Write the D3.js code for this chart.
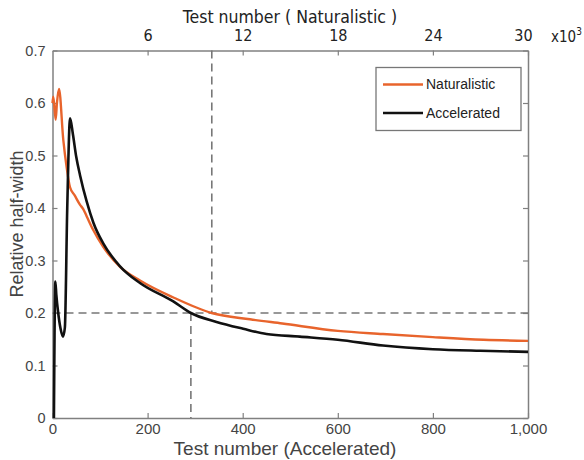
<!DOCTYPE html>
<html>
<head>
<meta charset="utf-8">
<script src="https://cdn.jsdelivr.net/npm/d3@7"></script>
<style>
  body { margin: 0; background: #fff; }
  .tick text { fill: #444; }
</style>
</head>
<body>
<script>
// Accelerated series (x = test number)
var accelX = [3, 6, 8, 12, 17, 22, 26, 31, 37, 43, 50, 58, 72, 86, 107, 142, 184, 254, 291, 345, 401, 450, 520, 600, 695, 800, 900, 1000];
var accelY = [0, 0.26, 0.235, 0.2, 0.17, 0.155, 0.172, 0.4, 0.571, 0.54, 0.497, 0.462, 0.412, 0.372, 0.332, 0.289, 0.257, 0.222, 0.2, 0.183, 0.17, 0.16, 0.155, 0.149, 0.138, 0.131, 0.128, 0.126];

// Naturalistic series (x = test number, thousands)
var natX = [0.0, 0.05, 0.2, 0.28, 0.41, 0.68, 0.9, 1.1, 1.4, 1.74, 1.94, 2.16, 2.57, 3.2, 4.26, 5.52, 7.6, 10.04, 12.46, 14.5, 18, 20.85, 24, 27.2, 30];
var natY = [0.6, 0.612, 0.568, 0.6, 0.627, 0.53, 0.476, 0.44, 0.424, 0.406, 0.398, 0.384, 0.358, 0.326, 0.288, 0.262, 0.23, 0.2, 0.188, 0.18, 0.166, 0.16, 0.154, 0.149, 0.147];

var bottomTicks = [0, 200, 400, 600, 800, 1000];
var topTicks = [6, 12, 18, 24, 30];
var yTicks = [0, 0.1, 0.2, 0.3, 0.4, 0.5, 0.6, 0.7];
var refY = 0.2, refAccel = 291, refNat = 10.05;
var seriesNames = ["Naturalistic", "Accelerated"];
var seriesColors = ["#e8642c", "#111111"];

var svgWidth = 584, svgHeight = 460;
var margin = { top: 50.5, right: 56, bottom: 42, left: 52.5 };
var width = svgWidth - margin.left - margin.right;
var height = svgHeight - margin.top - margin.bottom;

var svg = d3.select("body").append("svg")
  .attr("width", svgWidth)
  .attr("height", svgHeight)
  .style("font-family", "Liberation Sans, Arial, sans-serif");

var chartGroup = svg.append("g")
  .attr("transform", `translate(${margin.left}, ${margin.top})`);

var xAccel = d3.scaleLinear().domain([0, 1000]).range([0, width]);
var xNat = d3.scaleLinear().domain([0, 30]).range([0, width]);
var yScale = d3.scaleLinear().domain([0, 0.7]).range([height, 0]);

// axes, ticks pointing inward
var bottomAxis = d3.axisBottom(xAccel).tickValues(bottomTicks).tickSizeInner(-5).tickSizeOuter(0).tickPadding(5).tickFormat(d3.format(","));
var leftAxis = d3.axisLeft(yScale).tickValues(yTicks).tickSizeInner(-5).tickSizeOuter(0).tickPadding(7).tickFormat(d => d === 0 ? "0" : d3.format(".1f")(d));
var topAxis = d3.axisTop(xNat).tickValues(topTicks).tickSizeInner(-5).tickSizeOuter(0).tickPadding(10);
var rightAxis = d3.axisRight(yScale).tickValues(yTicks).tickSizeInner(-5).tickSizeOuter(0).tickFormat("");

var gB = chartGroup.append("g").attr("transform", `translate(0, ${height})`).call(bottomAxis);
var gL = chartGroup.append("g").call(leftAxis);
var gT = chartGroup.append("g").call(topAxis);
var gR = chartGroup.append("g").attr("transform", `translate(${width}, 0)`).call(rightAxis);

[gB, gL, gT, gR].forEach(function(g) {
  g.select(".domain").attr("stroke", "#808080").attr("stroke-width", 1.5);
  g.selectAll(".tick line").attr("stroke", "#808080").attr("stroke-width", 1.2);
  g.selectAll(".tick text").attr("font-size", 14.5);
});
gB.selectAll(".tick text").attr("font-size", 15);
gT.selectAll(".tick text")
  .attr("font-family", "Liberation Sans Narrow, DejaVu Sans Condensed, sans-serif")
  .attr("font-size", 16).style("fill", "#222")
  .attr("dx", d => d === 30 ? -5 : 0);

// dashed reference lines
var dash = "8,5";
chartGroup.append("line")
  .attr("x1", 0).attr("x2", width)
  .attr("y1", yScale(refY)).attr("y2", yScale(refY))
  .attr("stroke", "#777").attr("stroke-width", 1.6).attr("stroke-dasharray", dash);
chartGroup.append("line")
  .attr("x1", xAccel(refAccel)).attr("x2", xAccel(refAccel))
  .attr("y1", yScale(refY)).attr("y2", height)
  .attr("stroke", "#777").attr("stroke-width", 1.6).attr("stroke-dasharray", dash);
chartGroup.append("line")
  .attr("x1", xNat(refNat)).attr("x2", xNat(refNat))
  .attr("y1", 0).attr("y2", yScale(refY))
  .attr("stroke", "#777").attr("stroke-width", 1.6).attr("stroke-dasharray", dash);

// curves
var natData = natX.map((x, i) => ({ x: x, y: natY[i] }));
var accelData = accelX.map((x, i) => ({ x: x, y: accelY[i] }));

chartGroup.append("path")
  .datum(natData)
  .attr("fill", "none")
  .attr("stroke", seriesColors[0])
  .attr("stroke-width", 2.4)
  .attr("d", d3.line().x(d => xNat(d.x)).y(d => yScale(d.y)).curve(d3.curveMonotoneX));

chartGroup.append("path")
  .datum(accelData)
  .attr("fill", "none")
  .attr("stroke", seriesColors[1])
  .attr("stroke-width", 2.6)
  .attr("d", d3.line().x(d => xAccel(d.x)).y(d => yScale(d.y)).curve(d3.curveMonotoneX));

// legend
var legend = chartGroup.append("g").attr("transform", `translate(${376 - margin.left}, ${67.5 - margin.top})`);
legend.append("rect")
  .attr("width", 145).attr("height", 63)
  .attr("fill", "#fff").attr("stroke", "#777").attr("stroke-width", 1.3);
seriesNames.forEach(function(name, i) {
  var ly = 17 + i * 28.5;
  legend.append("line")
    .attr("x1", 7).attr("x2", 47).attr("y1", ly).attr("y2", ly)
    .attr("stroke", seriesColors[i]).attr("stroke-width", 2.4);
  legend.append("text")
    .attr("x", 50).attr("y", ly).attr("dy", "0.35em")
    .attr("font-size", 14).attr("fill", "#222")
    .text(name);
});

// axis titles
svg.append("text")
  .attr("x", 290).attr("y", 23)
  .attr("text-anchor", "middle")
  .attr("font-family", "Liberation Sans Narrow, DejaVu Sans Condensed, sans-serif")
  .attr("font-size", 17.5).attr("fill", "#222")
  .text("Test number ( Naturalistic )");

var exp = svg.append("text")
  .attr("x", 551).attr("y", 42)
  .attr("font-family", "Liberation Sans Narrow, DejaVu Sans Condensed, sans-serif")
  .attr("font-size", 15).attr("fill", "#222");
exp.append("tspan").text("x10");
exp.append("tspan").attr("dy", -7).attr("font-size", 10).text("3");

svg.append("text")
  .attr("x", 285).attr("y", 455)
  .attr("text-anchor", "middle")
  .attr("font-size", 19).attr("fill", "#444")
  .text("Test number (Accelerated)");

svg.append("text")
  .attr("transform", "rotate(-90)")
  .attr("x", -224).attr("y", 23)
  .attr("text-anchor", "middle")
  .attr("font-size", 18).attr("fill", "#444")
  .text("Relative half-width");
</script>
</body>
</html>
